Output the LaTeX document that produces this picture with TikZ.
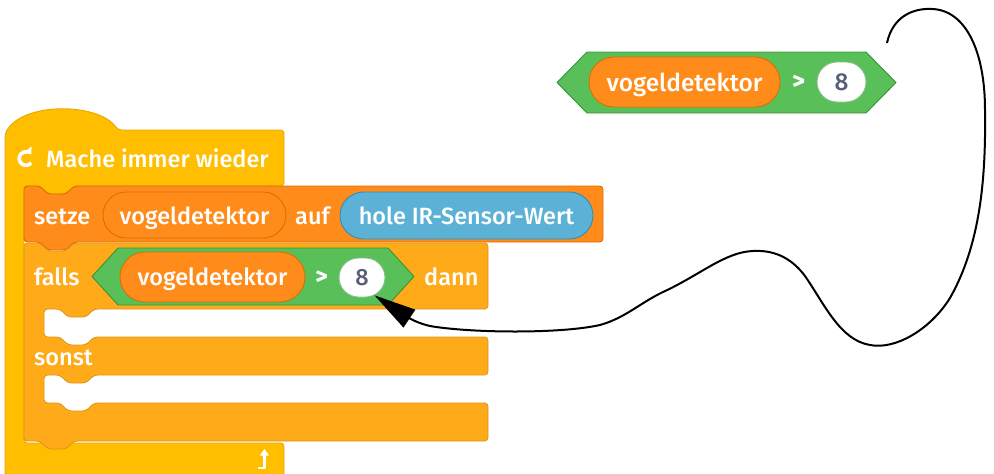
\documentclass[tikz,border=0pt]{standalone}
\usepackage{fontspec}
\setmainfont{Fira Sans}[UprightFont=* Medium]
\usetikzlibrary{shapes.misc, arrows.meta, calc}

\definecolor{ctrlA}{HTML}{FFBF00}
\definecolor{ctrlAline}{HTML}{E6A800}
\definecolor{ctrlB}{HTML}{FFAB19}
\definecolor{ctrlBline}{HTML}{E0961A}
\definecolor{varFill}{HTML}{FF8C1A}
\definecolor{varLine}{HTML}{DB6E00}
\definecolor{opFill}{HTML}{59C059}
\definecolor{opLine}{HTML}{389438}
\definecolor{senseFill}{HTML}{5CB1D6}
\definecolor{senseLine}{HTML}{2E8EB8}
\definecolor{numText}{HTML}{575E75}

\begin{document}
\begin{tikzpicture}[x=1pt, y=-1pt, line join=round,
  blockline/.style={line width=0.9pt, rounded corners=3.5pt},
  oval/.style={rounded rectangle, inner sep=0pt, line width=0.9pt},
  varoval/.style={oval, fill=varFill, draw=varLine},
  senseoval/.style={oval, fill=senseFill, draw=senseLine},
  numoval/.style={oval, fill=white, draw=opLine!60},
  lbl/.style={text=white, font=\fontsize{23.5}{27}\selectfont, anchor=base, inner sep=0pt},
  lblw/.style={lbl, anchor=base west},
  biglbl/.style={lbl, font=\fontsize{24.5}{28}\selectfont},
  numlbl/.style={lbl, text=numText},
  wire/.style={line width=2pt, black, -{Triangle[length=42pt, width=21pt]}}]

\path[use as bounding box] (0,0) rectangle (994,474);
\clip (0,0) rectangle (994,474);

% forever block (C shape with hat)
\filldraw[fill=ctrlA, draw=ctrlAline, blockline]
  (5,480) -- (5,134) .. controls (22,102) and (98,102) .. (118,130)
  -- (284,130) -- (284,186) -- (74,186) -- (66,194) -- (48,194) -- (40,186)
  -- (24,186) -- (24,443) -- (284,443) -- (284,480) -- cycle;

% loop icon
\begin{scope}[shift={(26,158.5)}, y=1pt]
  \draw[white, line width=3.6pt, -{Triangle[width=9.5pt, length=6pt]}]
    (-40:6.8) arc[start angle=-40, end angle=-322, radius=6.8pt];
\end{scope}
\node[lblw] (forever) at (46,167) {Mache immer wieder};
\draw[white, line width=2.8pt, -{Triangle[width=9pt, length=6.5pt]}]
  (258,468) -- (264.5,468) -- (264.5,449);

% set variable block
\filldraw[fill=varFill, draw=varLine, blockline]
  (24,186) -- (40,186) -- (48,194) -- (66,194) -- (74,186) -- (603,186)
  -- (603,242) -- (74,242) -- (66,250) -- (48,250) -- (40,242) -- (24,242) -- cycle;
\node[lblw] (setze) at (34,224) {setze};
\node[varoval, minimum width=183pt, minimum height=46pt] (varA) at (194.5,215) {};
\node[lbl] (varAtxt) at ([yshift=-9pt]varA.center) {vogeldetektor};
\node[lblw] (auf) at (295,224) {auf};
\node[senseoval, minimum width=253pt, minimum height=47pt] (sense) at (466.5,215.5) {};
\node[lbl] (sensetxt) at ([yshift=-8.5pt]sense.center) {hole IR-Sensor-Wert};

% if / else block
\filldraw[fill=ctrlB, draw=ctrlBline, blockline]
  (24,243) -- (40,243) -- (48,251) -- (66,251) -- (74,243) -- (488,243)
  -- (488,309) -- (94,309) -- (86,317) -- (68,317) -- (60,309) -- (44,309)
  -- (44,337) -- (60,337) -- (68,345) -- (86,345) -- (94,337) -- (488,337)
  -- (488,375) -- (94,375) -- (86,383) -- (68,383) -- (60,375) -- (44,375)
  -- (44,403) -- (60,403) -- (68,411) -- (86,411) -- (94,403) -- (488,403)
  -- (488,441) -- (74,441) -- (66,449) -- (48,449) -- (40,441) -- (24,441) -- cycle;
\node[lblw] (falls) at (34,285) {falls};
\node[lblw] (dann) at (424,285) {dann};
\node[lblw] (sonst) at (34,365) {sonst};

% condition inside the if block
\filldraw[fill=opFill, draw=opLine, line width=0.9pt]
  (92,276.5) -- (118,248) -- (388,248) -- (414,276.5) -- (388,305) -- (118,305) -- cycle;
\node[varoval, minimum width=185pt, minimum height=50pt] (varB) at (212.5,277) {};
\node[lbl] (varBtxt) at ([yshift=-8pt]varB.center) {vogeldetektor};
\node[lbl, font=\fontsize{23.5}{27}\bfseries] (gtB) at (321.5,284) {>};
\node[numoval, minimum width=46pt, minimum height=39pt] (eightA) at (362,277.5) {};
\node[numlbl] (eightAtxt) at ([yshift=-8pt]eightA.center) {8};

% loose condition block
\filldraw[fill=opFill, draw=opLine, line width=0.9pt]
  (557,82.5) -- (587,52) -- (866,52) -- (896,82.5) -- (866,113) -- (587,113) -- cycle;
\node[varoval, minimum width=191pt, minimum height=50pt] (varC) at (684.5,82) {};
\node[biglbl] (varCtxt) at ([yshift=-9pt]varC.center) {vogeldetektor};
\node[biglbl, font=\fontsize{24.5}{28}\bfseries] (gtC) at (798.5,89) {>};
\node[numoval, minimum width=49pt, minimum height=40pt] (eightB) at (841.5,82) {};
\node[numlbl, font=\fontsize{24.5}{28}\selectfont] (eightBtxt) at ([yshift=-8.5pt]eightB.center) {8};

% hand-drawn connector
\coordinate (wireStart) at (887,43);
\draw[wire] (wireStart) .. controls (893,15) and (915,8) .. (932,9)
  .. controls (965,10) and (985,50) .. (985,110)
  .. controls (986,180) and (980,245) .. (950,298)
  .. controls (930,330) and (895,350) .. (870,345)
  .. controls (840,340) and (825,305) .. (805,276)
  .. controls (790,256) and (772,250) .. (753,251)
  .. controls (725,252) and (700,275) .. (663,292)
  .. controls (640,303) and (625,318) .. (600,325)
  .. controls (560,334) and (470,333) .. (430,326)
  .. controls (412,322) and (398,311) .. (eightA.-55);
\end{tikzpicture}
\end{document}
